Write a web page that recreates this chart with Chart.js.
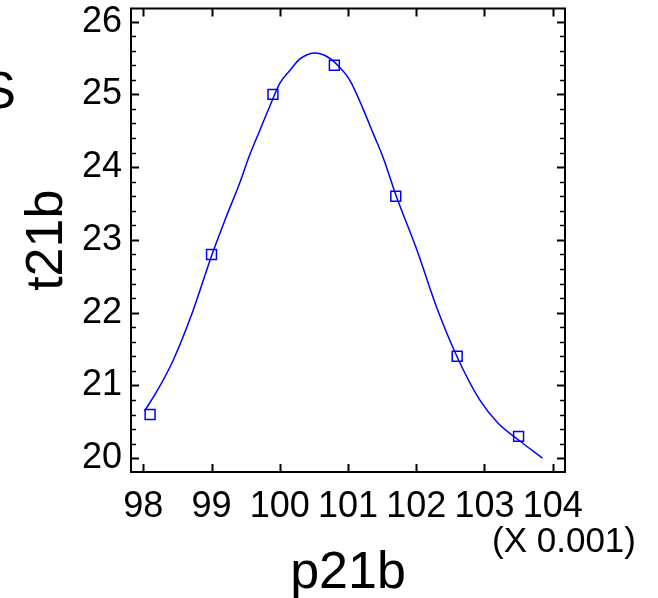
<!DOCTYPE html>
<html>
<head>
<meta charset="utf-8">
<script src="https://cdn.jsdelivr.net/npm/chart.js@4.4.1/dist/chart.umd.min.js"></script>
<style>
html, body { margin: 0; padding: 0; background: #fff; }
#wrap { width: 658px; height: 598px; }
</style>
</head>
<body>
<div id="wrap"><canvas id="chart"></canvas></div>
<script>
// observed points
var obsX = [98.1, 99.0, 99.9, 100.8, 101.7, 102.6, 103.5];
var obsY = [20.6, 22.8, 25.0, 25.4, 23.6, 21.4, 20.3];

// fitted curve
var fitX = [98.02, 98.2, 98.44, 98.73, 99.0, 99.2, 99.42, 99.54, 99.71, 99.86, 100.0, 100.15,
            100.3, 100.52, 100.69, 100.88, 101.03, 101.23, 101.37, 101.52, 101.7, 102.01,
            102.3, 102.6, 102.93, 103.2, 103.5, 103.85];
var fitY = [20.65, 20.92, 21.35, 22.03, 22.78, 23.28, 23.8, 24.12, 24.51, 24.85, 25.15, 25.33,
            25.49, 25.57, 25.52, 25.37, 25.19, 24.78, 24.46, 24.12, 23.62, 22.86,
            22.07, 21.39, 20.80, 20.48, 20.25, 20.0];

var xTicks = [98, 99, 100, 101, 102, 103, 104];
var yTicks = [20, 21, 22, 23, 24, 25, 26];

var xTitle = 'p21b';
var yTitle = 't21b';
var xMultiplier = '(X 0.001)';

var fontFamily = "'Liberation Sans', Arial, sans-serif";

function toPoints(xs, ys) {
    var pts = [];
    for (var i = 0; i < xs.length; i++) {
        pts.push({ x: xs[i], y: ys[i] });
    }
    return pts;
}

// frame, inward ticks and titles
var framePlugin = {
    id: 'frame',
    afterDraw: function (chart) {
        var ctx = chart.ctx;
        var a = chart.chartArea;
        var xs = chart.scales.x;
        var ys = chart.scales.y;
        ctx.save();
        ctx.strokeStyle = '#000';
        ctx.lineWidth = 2;
        ctx.strokeRect(a.left, a.top, a.right - a.left, a.bottom - a.top);

        ctx.beginPath();
        xTicks.forEach(function (v) {
            var px = Math.round(xs.getPixelForValue(v)) + 0.5;
            ctx.moveTo(px, a.bottom); ctx.lineTo(px, a.bottom - 8);
            ctx.moveTo(px, a.top); ctx.lineTo(px, a.top + 8);
        });
        yTicks.forEach(function (v) {
            var py = Math.round(ys.getPixelForValue(v)) + 0.5;
            ctx.moveTo(a.left, py); ctx.lineTo(a.left + 8, py);
            ctx.moveTo(a.right, py); ctx.lineTo(a.right - 8, py);
        });
        ctx.stroke();

        ctx.lineWidth = 1.5;
        ctx.beginPath();
        for (var i = 1; i < 30; i++) {
            if (i % 5 === 0) continue;
            var py = Math.round(ys.getPixelForValue(20 + i * 0.2)) + 0.5;
            ctx.moveTo(a.left, py); ctx.lineTo(a.left + 5, py);
            ctx.moveTo(a.right, py); ctx.lineTo(a.right - 5, py);
        }
        ctx.stroke();

        ctx.fillStyle = '#000';
        ctx.font = '52px ' + fontFamily;
        ctx.textAlign = 'center';
        ctx.textBaseline = 'alphabetic';
        ctx.fillText(xTitle, (a.left + a.right) / 2, 588);

        ctx.save();
        ctx.translate(62, (a.top + a.bottom) / 2);
        ctx.rotate(-Math.PI / 2);
        ctx.fillText(yTitle, 0, 0);
        ctx.restore();

        ctx.textAlign = 'right';
        ctx.fillText('S', 16, 108);

        ctx.font = '35px ' + fontFamily;
        ctx.textAlign = 'left';
        ctx.fillText(xMultiplier, 492, 552);
        ctx.restore();
    }
};

var ctx = document.getElementById('chart').getContext('2d');
var chart = new Chart(ctx, {
    type: 'scatter',
    data: {
        datasets: [
            {
                label: 'fit',
                data: toPoints(fitX, fitY),
                showLine: true,
                borderColor: 'rgb(0, 0, 255)',
                borderWidth: 1.5,
                pointRadius: 0,
                cubicInterpolationMode: 'monotone',
                fill: false
            },
            {
                label: 'observed',
                data: toPoints(obsX, obsY),
                showLine: false,
                pointStyle: 'rect',
                pointRadius: 7,
                borderColor: 'rgb(0, 0, 255)',
                backgroundColor: 'rgba(0, 0, 0, 0)',
                borderWidth: 1.5
            }
        ]
    },
    options: {
        responsive: true,
        maintainAspectRatio: false,
        animation: false,
        layout: { padding: { top: 8, right: 93, left: 0, bottom: 0 } },
        plugins: {
            legend: { display: false },
            tooltip: { enabled: false }
        },
        scales: {
            x: {
                type: 'linear',
                min: 97.82,
                max: 104.18,
                grid: { display: false, drawTicks: false },
                border: { display: false },
                afterBuildTicks: function (scale) {
                    scale.ticks = xTicks.map(function (v) { return { value: v }; });
                },
                afterFit: function (scale) {
                    scale.height = 126;
                    scale.paddingLeft = 0;
                    scale.paddingRight = 0;
                },
                ticks: {
                    color: '#000',
                    font: { family: fontFamily, size: 36 },
                    padding: 13,
                    maxRotation: 0,
                    autoSkip: false
                }
            },
            y: {
                type: 'linear',
                min: 19.81,
                max: 26.18,
                grid: { display: false, drawTicks: false },
                border: { display: false },
                afterBuildTicks: function (scale) {
                    scale.ticks = yTicks.map(function (v) { return { value: v }; });
                },
                afterFit: function (scale) {
                    scale.width = 131;
                    scale.paddingTop = 0;
                    scale.paddingBottom = 0;
                },
                ticks: {
                    color: '#000',
                    font: { family: fontFamily, size: 36 },
                    padding: 9,
                    autoSkip: false
                }
            }
        }
    },
    plugins: [framePlugin]
});
</script>
</body>
</html>
